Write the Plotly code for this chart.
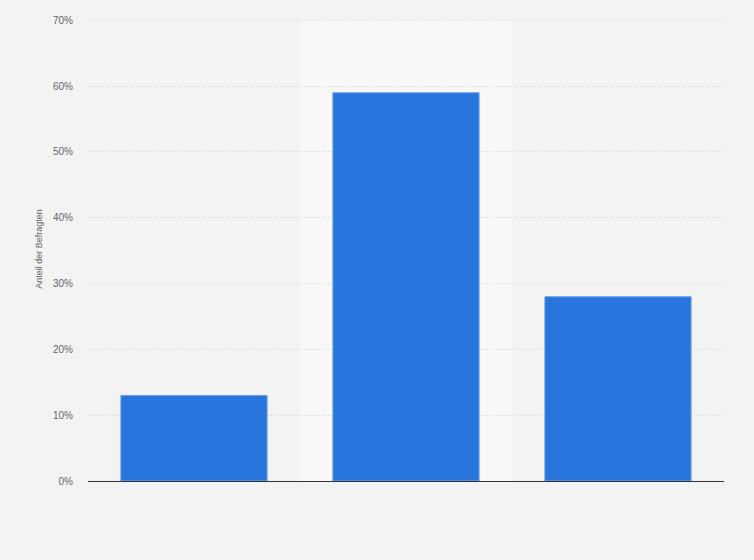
import plotly.graph_objects as go

# Antworten (Beschriftungen im Original nicht sichtbar)
categories = ["a", "b", "c"]
shares = [13, 59, 28]
y_ticks = [0, 10, 20, 30, 40, 50, 60, 70]
y_labels = ["0%", "10%", "20%", "30%", "40%", "50%", "60%", "70%"]

fig = go.Figure()
fig.add_trace(go.Bar(
    x=categories,
    y=shares,
    marker=dict(color="#2876dd", line=dict(color="#6fa3ea", width=1)),
    width=0.69,
    hoverinfo="skip",
))

# hervorgehobene Spalte hinter dem mittleren Balken
fig.add_shape(type="rect", xref="x", yref="y",
              x0=0.5, x1=1.5, y0=0, y1=70,
              fillcolor="#f8f8f8", line=dict(width=0), layer="below")

fig.update_layout(
    width=754, height=560,
    paper_bgcolor="#f3f3f3",
    plot_bgcolor="#f3f3f3",
    margin=dict(l=88, r=30, t=17, b=79),
    font=dict(family="Liberation Sans, Arial, sans-serif", color="#666666"),
    showlegend=False,
    xaxis=dict(
        showticklabels=False,
        showgrid=False,
        showline=True,
        linecolor="#333333",
        linewidth=1,
        zeroline=False,
        range=[-0.5, 2.5],
    ),
    yaxis=dict(
        range=[0, 70.5],
        tickvals=y_ticks,
        ticktext=y_labels,
        tickfont=dict(size=10, color="#666666"),
        showgrid=True,
        gridcolor="#d0d0d0",
        griddash="1px,2px",
        gridwidth=1,
        zeroline=False,
        ticklabelstandoff=14,
        title=dict(text="Anteil der Befragten", font=dict(size=9, color="#666666"), standoff=8),
    ),
)

fig.write_html("out.html", config={"displayModeBar": False},
               post_script="document.body.style.margin='0';")
